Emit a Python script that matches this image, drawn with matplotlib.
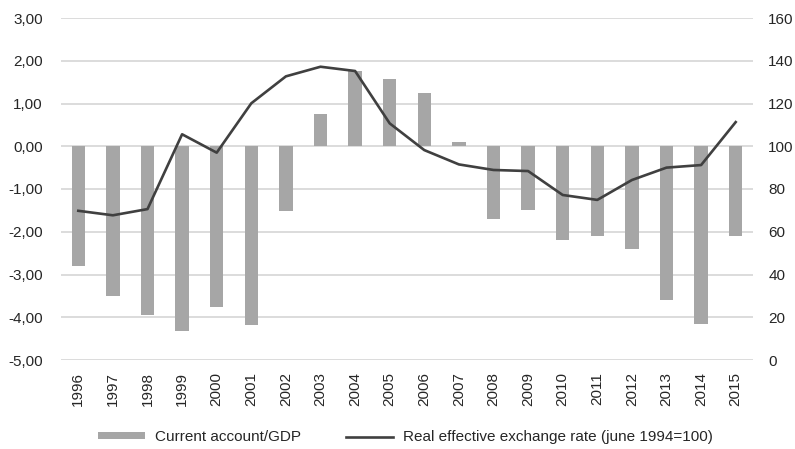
import matplotlib
matplotlib.use("Agg")
import matplotlib.pyplot as plt
from matplotlib.ticker import FuncFormatter, FixedLocator

plt.rcParams["font.family"] = ["Liberation Sans", "DejaVu Sans"]

years = ["1996", "1997", "1998", "1999", "2000", "2001", "2002", "2003", "2004", "2005",
         "2006", "2007", "2008", "2009", "2010", "2011", "2012", "2013", "2014", "2015"]
current_account = [-2.80, -3.50, -3.95, -4.32, -3.75, -4.18, -1.51, 0.75, 1.76, 1.57,
                   1.25, 0.11, -1.70, -1.49, -2.20, -2.11, -2.40, -3.60, -4.16, -2.11]
reer = [69.8, 67.7, 70.6, 105.6, 97.0, 120.1, 132.7, 137.2, 135.2, 110.7,
        98.2, 91.5, 88.9, 88.4, 77.2, 74.9, 84.2, 90.0, 91.2, 111.3]
left_ticks = [-5, -4, -3, -2, -1, 0, 1, 2, 3]
right_ticks = [0, 20, 40, 60, 80, 100, 120, 140, 160]

bar_color = "#a6a6a6"
line_color = "#404040"
grid_color = "#d9d9d9"
text_color = "#262626"
fs = 11

fig = plt.figure(figsize=(7.95, 4.49), dpi=100)
ax = fig.add_axes([61 / 795, 1 - 360 / 449, (753 - 61) / 795, (360 - 18) / 449])
ax2 = ax.twinx()

x = list(range(len(years)))
ax.set_axisbelow(True)
ax.yaxis.grid(True, color=grid_color, linewidth=1.3)
bars = ax.bar(x, current_account, width=0.385, color=bar_color,
              label="Current account/GDP", zorder=2)
ax.set_ylim(-5, 3)
ax.set_xlim(-0.5, len(years) - 0.5)
ax.yaxis.set_major_locator(FixedLocator(left_ticks))
ax.yaxis.set_major_formatter(FuncFormatter(lambda v, p: f"{v:.2f}".replace(".", ",")))
ax.set_xticks(x)
ax.set_xticklabels(years, rotation=90)

line, = ax2.plot(x, reer, color=line_color, linewidth=1.9,
                 label="Real effective exchange rate (june 1994=100)")
ax2.set_ylim(0, 160)
ax2.yaxis.set_major_locator(FixedLocator(right_ticks))
ax2.yaxis.set_major_formatter(FuncFormatter(lambda v, p: f"{int(v)}"))

for a in (ax, ax2):
    for s in a.spines.values():
        s.set_visible(False)
    a.tick_params(length=0, labelsize=fs, colors=text_color)
ax.tick_params(axis="y", pad=13)
ax2.tick_params(axis="y", pad=11)
ax.tick_params(axis="x", pad=8.5)

fig.legend([bars, line], [bars.get_label(), line.get_label()],
           loc="center", bbox_to_anchor=(0.51, 1 - 437 / 449), ncol=2,
           frameon=False, fontsize=fs, handlelength=3.07, handleheight=0.3,
           handletextpad=0.7, columnspacing=2.9, labelcolor=text_color)

fig.savefig("out.png", dpi=100)
